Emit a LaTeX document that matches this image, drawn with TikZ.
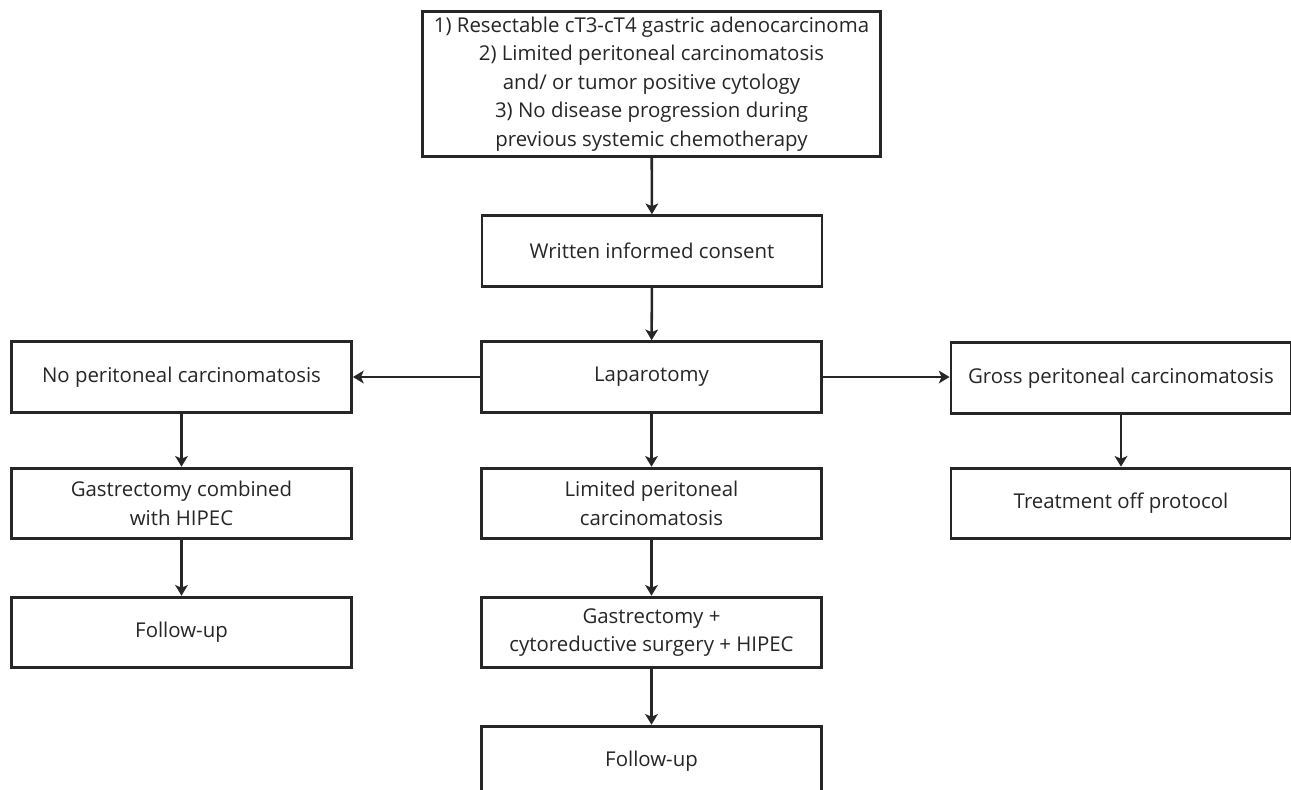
\documentclass[tikz,border=0pt]{standalone}
\usepackage{fontspec}
\setmainfont{Open Sans}
\usepackage{tikz}
\usetikzlibrary{arrows.meta, positioning}

\begin{document}
\begin{tikzpicture}[
    x=0.75pt, y=-0.75pt,
    box/.style={rectangle, draw=black!85, line width=2.2pt, fill=white, minimum width=255pt, minimum height=53pt, align=center, inner sep=2pt, font=\fontsize{15.3}{21.4}\selectfont, text=black!85},
    arr/.style={draw=black!85, line width=1.9pt, -{Stealth[length=8pt, width=9.5pt, inset=2pt]}}
  ]
  \useasboundingbox (0, 0) rectangle (1291, 789);

  % Inclusion criteria
  \node[box, minimum width=343pt, minimum height=109pt] (crit) at (651.5, 84) {1) Resectable cT3-cT4 gastric adenocarcinoma\\2) Limited peritoneal carcinomatosis\\and/ or tumor positive cytology\\3) No disease progression during\\previous systemic chemotherapy};

  % Centre column
  \node[box] (consent) at (652, 251) {Written informed consent};
  \node[box] (lap) at (651.5, 377) {Laparotomy};
  \node[box] (limited) at (651.5, 503.5) {Limited peritoneal\\carcinomatosis};
  \node[box] (cyto) at (651.5, 632.5) {Gastrectomy +\\cytoreductive surgery + HIPEC};
  \node[box] (fu2) at (651.5, 761.5) {Follow-up};

  % Left column
  \node[box] (nopc) at (181.5, 377) {No peritoneal carcinomatosis};
  \node[box] (gasthipec) at (181.5, 503.5) {Gastrectomy combined\\with HIPEC};
  \node[box] (fu1) at (181.5, 632.5) {Follow-up};

  % Right column
  \node[box] (gross) at (1121, 378) {Gross peritoneal carcinomatosis};
  \node[box] (offprot) at (1121, 503.5) {Treatment off protocol};

  % Connectors
  \draw[arr] (crit) -- (consent);
  \draw[arr] (consent) -- (lap);
  \draw[arr] (lap) -- (nopc);
  \draw[arr] (lap) -- (gross.west |- lap);
  \draw[arr] (lap) -- (limited);
  \draw[arr] (limited) -- (cyto);
  \draw[arr] (cyto) -- (fu2);
  \draw[arr] (nopc) -- (gasthipec);
  \draw[arr] (gasthipec) -- (fu1);
  \draw[arr] (gross) -- (offprot);

\end{tikzpicture}
\end{document}
